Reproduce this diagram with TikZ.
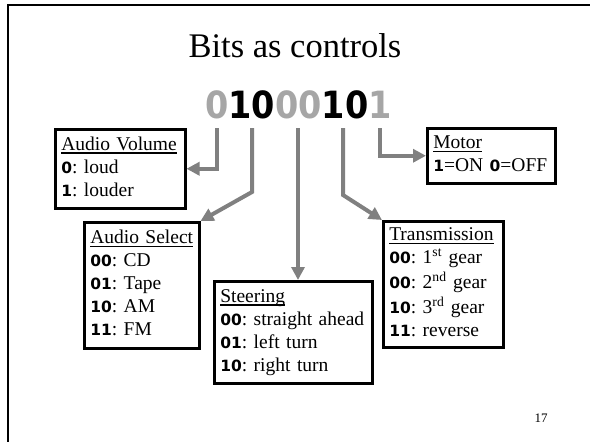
\documentclass[tikz,border=0pt]{standalone}
\usepackage{fontspec}
\setmainfont{Liberation Serif}
\newfontfamily\digf{DejaVu Sans}
\usetikzlibrary{arrows.meta}
\definecolor{arrgray}{RGB}{128,128,128}
\definecolor{bitgray}{RGB}{166,166,166}
\newcommand\dg[1]{{\digf\bfseries\fontsize{15.5}{23}\selectfont #1}}
\newcommand\hdr[1]{\setbox0\hbox{#1}\rlap{\rule[-3.5pt]{\wd0}{1.5pt}}\box0}
\newcommand\li[1]{\mbox{\strut#1}}
\frenchspacing
\tikzset{
  box/.style={draw, line width=2.5pt, inner xsep=6pt, inner ysep=0pt, align=left,
    anchor=north west, font=\fontsize{19.5}{23}\selectfont\frenchspacing},
  arr/.style={draw=arrgray, line width=4pt, -{Triangle[length=13pt,width=13pt]}},
}
\begin{document}
\begin{tikzpicture}[x=1pt,y=-1pt]
\useasboundingbox (0,0) rectangle (590,442);
\draw[line width=2.5pt] (8,460) -- (8,5) -- (600,5);
\node[anchor=base, font=\fontsize{34.5}{40}\selectfont] (title) at (295,57) {Bits as controls};
\node[anchor=base, inner sep=0pt, font=\digf\bfseries\fontsize{33.5}{40}\selectfont] (bits) at (298.5,118)
  {\scalebox{1}[1.12]{\textcolor{bitgray}{0}10\textcolor{bitgray}{00}10\textcolor{bitgray}{1}}};
\node[box, text width=118pt, minimum height=79pt] (vol) at (54,128)
  {\li{\hdr{Audio Volume}}\\ \li{\dg{0}: loud}\\ \li{\dg{1}: louder}};
\node[box, text width=103pt, minimum height=126pt] (sel) at (83,221)
  {\li{\hdr{Audio Select}}\\ \li{\dg{00}: CD}\\ \li{\dg{01}: Tape}\\ \li{\dg{10}: AM}\\ \li{\dg{11}: FM}};
\node[box, text width=146pt, minimum height=102pt] (steer) at (213,280)
  {\li{\hdr{Steering}}\\ \li{\dg{00}: straight ahead}\\ \li{\dg{01}: left turn}\\ \li{\dg{10}: right turn}};
\node[box, text width=108pt, minimum height=126pt] (trans) at (382,220)
  {\li{\hdr{Transmission}}\\ \li{\dg{00}: 1\textsuperscript{st} gear}\\ \li{\dg{00}: 2\textsuperscript{nd} gear}\\ \li{\dg{10}: 3\textsuperscript{rd} gear}\\ \li{\dg{11}: reverse}};
\node[box, text width=116pt, minimum height=55pt] (motor) at (426,127)
  {\li{\hdr{Motor}}\\ \li{\dg{1}=ON \dg{0}=OFF}};
\node[anchor=base, font=\fontsize{13}{15}\selectfont] (page) at (541,422) {17};
\coordinate (s0) at (217,128);
\coordinate (s1) at (252,128);
\coordinate (s3) at (298,128);
\coordinate (s5) at (343,128);
\coordinate (s7) at (380,128);
\coordinate (c1) at (252,192);
\coordinate (c5) at (343,195);
\draw[arr] (s0) |- (vol.east);
\draw[arr] (s1) -- (c1) -- (sel.north east);
\draw[arr] (s3) -- (s3 |- steer.north);
\draw[arr] (s5) -- (c5) -- (trans.north west);
\draw[arr] (s7) |- (motor.west);
\end{tikzpicture}
\end{document}
